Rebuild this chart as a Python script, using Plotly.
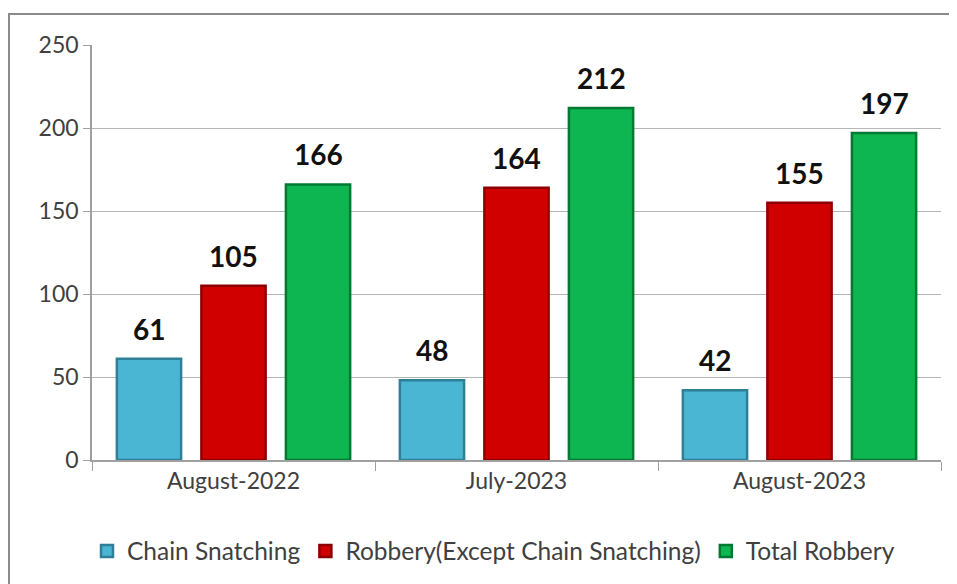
import plotly.graph_objects as go

categories = ["August-2022", "July-2023", "August-2023"]
chain_snatching = [61, 48, 42]
robbery_except = [105, 164, 155]
total_robbery = [166, 212, 197]
series_names = ["Chain Snatching", "Robbery(Except Chain Snatching)", "Total Robbery"]
y_ticks = [0, 50, 100, 150, 200, 250]

FONT = "Lato, Open Sans, sans-serif"
fills = ["#4BB5D4", "#D00000", "#0DB650"]
edges = ["#2F7F97", "#8E0000", "#007A33"]

# the page body adds an 8px offset; the figure is sized to fit the window
W, H = 949, 576
L, R, T, B = 84, 16, 37, 123
pw, ph = W - L - R, H - T - B
SLOT = 84.5  # pixel distance between bars of one group

def px(x):
    return (x - L) / pw

def py(y):
    return (H - B - y) / ph

fig = go.Figure()
all_series = [chain_snatching, robbery_except, total_robbery]
for i, (name, vals, fc, ec) in enumerate(zip(series_names, all_series, fills, edges)):
    fig.add_trace(go.Bar(
        name=name, x=categories, y=vals,
        marker=dict(color=fc, line=dict(color=ec, width=2.5)),
    ))
    for cat, v in zip(categories, vals):
        fig.add_annotation(x=cat, y=v, xref="x", yref="y", text=str(v), showarrow=False,
                           xshift=(i - 1) * SLOT, yshift=30, yanchor="middle",
                           font=dict(family=FONT, size=28, color="#111111", weight="bold"))

fig.add_shape(type="rect", xref="paper", yref="paper",
              x0=px(1), x1=px(947.5), y0=py(600), y1=py(6),
              line=dict(color="#8a8a8a", width=2), fillcolor="rgba(0,0,0,0)", layer="below")

fig.update_layout(
    width=W, height=H,
    margin=dict(l=L, r=R, t=T, b=B),
    paper_bgcolor="white", plot_bgcolor="white",
    barmode="group", bargap=0.104, bargroupgap=0.24,
    font=dict(family=FONT, size=23, color="#404040"),
    showlegend=True,
    legend=dict(orientation="h", x=px(485.5), xanchor="center", y=py(543), yanchor="middle",
                font=dict(family=FONT, size=24.5, color="#404040"),
                itemwidth=30, tracegroupgap=0),
    xaxis=dict(showline=True, linecolor="#a0a0a0", linewidth=1.5,
               ticks="outside", tickson="boundaries", ticklen=9, tickcolor="#a0a0a0",
               tickfont=dict(family=FONT, size=23, color="#404040"), showgrid=False),
    yaxis=dict(range=[0, 250], tickvals=y_ticks, showline=True, linecolor="#a0a0a0", linewidth=1.5,
               ticks="outside", ticklen=7, tickcolor="#a0a0a0",
               gridcolor="#b5b5b5", gridwidth=1.2, zeroline=False,
               tickfont=dict(family=FONT, size=23, color="#404040")),
)

fig.write_html("out.html")
